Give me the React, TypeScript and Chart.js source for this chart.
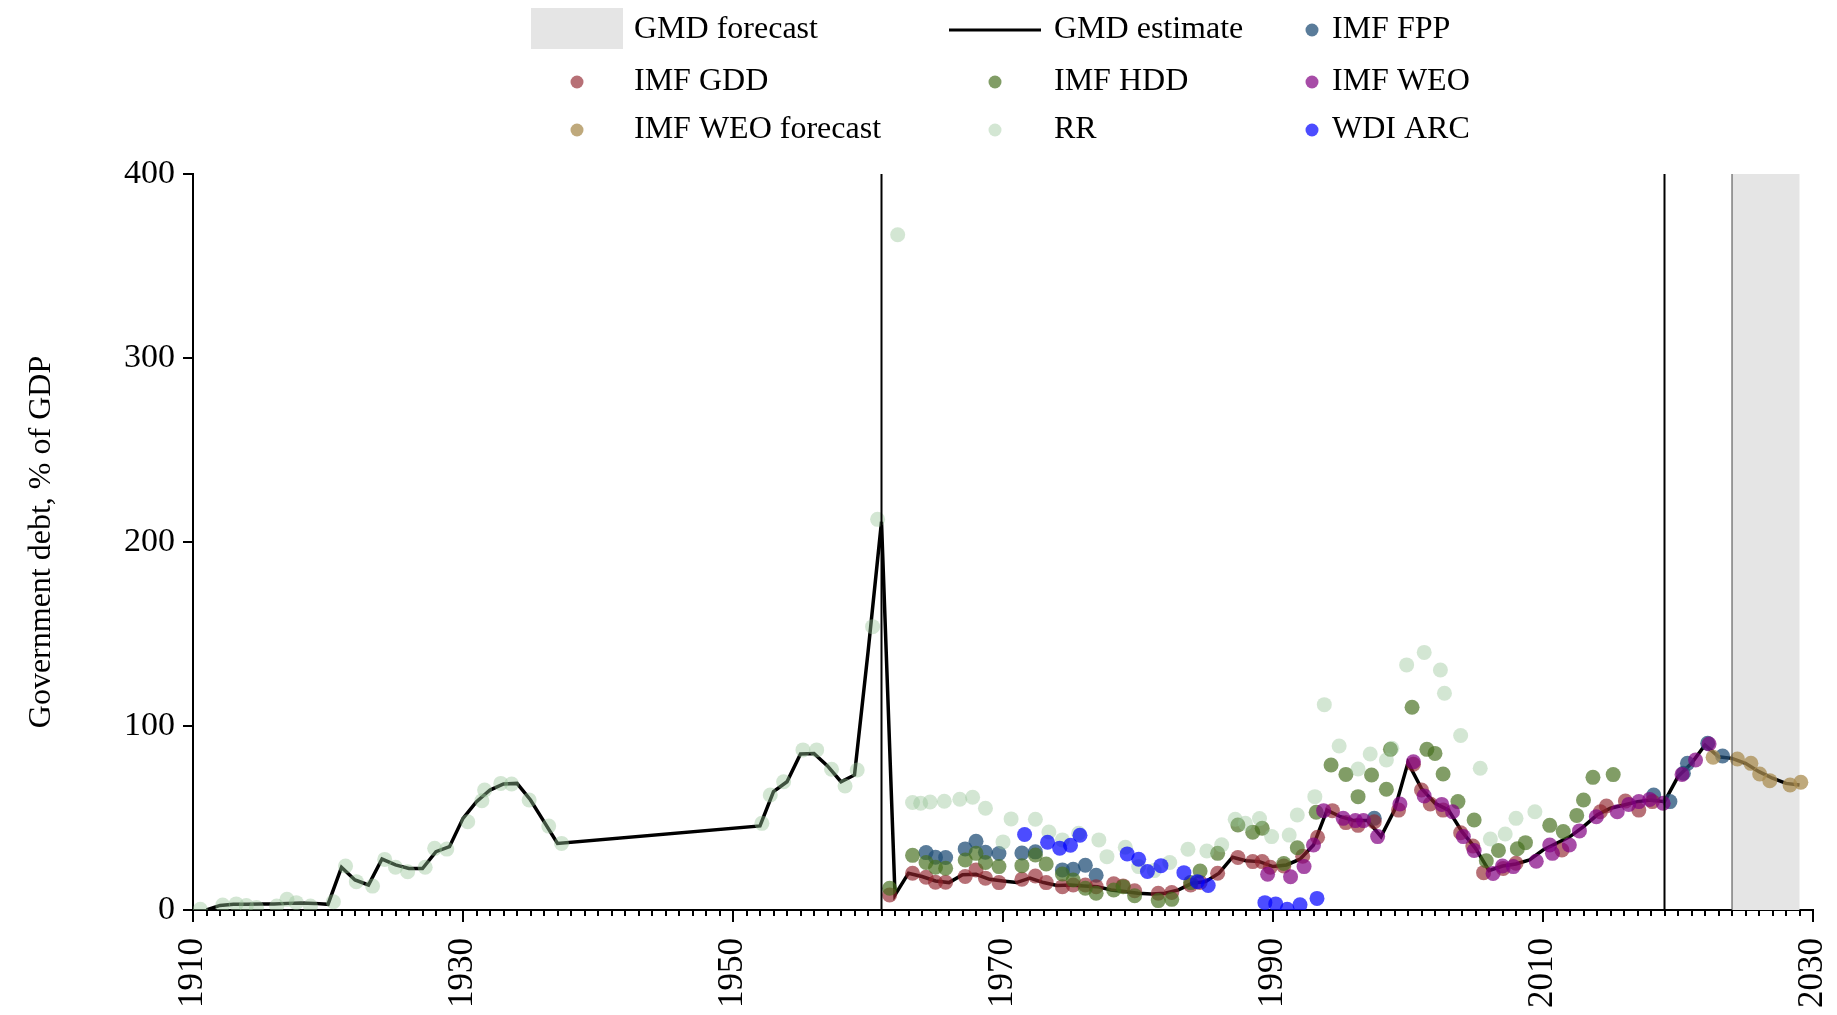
import React, { useEffect, useRef } from "react";
import { Chart, registerables } from "chart.js";

Chart.register(...registerables);

// ---------- data ----------
const xMin = 1910;
const xMax = 2030;
const xMajorTicks = [1910, 1930, 1950, 1970, 1990, 2010, 2030];
const xMinorTicks = Array.from({ length: xMax - xMin + 1 }, (_, i) => xMin + i);
const yTicks = [0, 100, 200, 300, 400];
const verticalLineYears = [1961, 2019];
const forecastStart = 2024;
const forecastEnd = 2029;

const gmdYears = [
  1911, 1912, 1913, 1914, 1915, 1916, 1917, 1918, 1919, 1920, 1921, 1922, 1923, 1924, 1925, 1926, 1927,
  1928, 1929, 1930, 1931, 1932, 1933, 1934, 1935, 1936, 1937,
  1952, 1953, 1954, 1955, 1956, 1957, 1958, 1959, 1960, 1961, 1962, 1963, 1964, 1965, 1966, 1967, 1968,
  1969, 1970, 1971, 1972, 1973, 1974, 1975, 1976, 1977, 1978, 1979, 1980, 1981, 1982, 1983, 1984, 1985,
  1986, 1987, 1988, 1989, 1990, 1991, 1992, 1993, 1994, 1995, 1996, 1997, 1998, 1999, 2000, 2001, 2002,
  2003, 2004, 2005, 2006, 2007, 2008, 2009, 2010, 2011, 2012, 2013, 2014, 2015, 2016, 2017, 2018, 2019,
  2020, 2021, 2022, 2023, 2024, 2025, 2026, 2027, 2028, 2029,
];
const gmdValues = [
  0, 2.5, 3.1, 3.1, 3.3, 3.3, 3.6, 3.8, 3.6, 3.1, 23.2, 16.3, 13.6, 27.7, 24.5, 22.6, 22.5,
  31.7, 34.4, 49.8, 58.9, 65.2, 68.5, 68.8, 59.8, 48, 36.2,
  45.7, 64.3, 69.7, 84.8, 85.1, 78.3, 69.7, 73.4, 140, 211, 8.2, 20, 18.2, 15.8, 14.9, 19.1, 19.4,
  16.7, 15.8, 14.9, 17.3, 14.9, 13.3, 13.6, 13.1, 12.7, 10.9, 10, 9.1, 8.7, 9.1, 10.9, 14.5, 15.4,
  20, 28.7, 26.8, 26.3, 23.6, 24.5, 27.6, 35.3, 54.3, 50.7, 48.6, 48.6, 39.9, 54.3, 80.1, 66, 58,
  54.3, 42.6, 33.5, 21.4, 23.9, 25, 27.2, 32.6, 36.2, 39.9, 45.3, 51.6, 55.3, 57.1, 58.9, 59.8, 58.9,
  72.5, 79.7, 89.7, 83.3, 82.4, 79.7, 75.2, 71.6, 68.8, 67.9,
];

const fppYears = [1964.3, 1965.0, 1965.75, 1967.2, 1968.0, 1968.7, 1969.7, 1971.4, 1972.4, 1974.4, 1975.2, 1976.1, 1976.9, 1997.5, 2018.2, 2019.4, 2020.4, 2020.7, 2022.2, 2023.3];
const fppValues = [31.2, 28.7, 28.5, 33.2, 37.4, 31.4, 30.7, 31.0, 31.6, 21.8, 22.1, 24.3, 18.9, 49.8, 62.5, 58.9, 74.3, 79.7, 90.6, 83.7];

const gddYears = [
  1961.6, 1963.3, 1964.3, 1965.0, 1965.75, 1967.2, 1968.0, 1968.7, 1969.7, 1971.4, 1972.4, 1973.2, 1974.4,
  1975.2, 1976.1, 1976.9, 1978.2, 1978.9, 1979.75, 1981.5, 1982.5, 1983.9, 1984.6, 1985.9, 1987.4, 1988.5,
  1989.2, 1989.8, 1990.8, 1992.2, 1993.3, 1994.4, 1995.4, 1996.3, 1997.5, 1999.3, 2000.4, 2001.0, 2001.65,
  2002.6, 2003.9, 2004.8, 2005.6, 2007.05, 2008.0, 2011.4, 2014.25, 2014.7, 2016.1, 2017.1, 2018.1,
];
const gddValues = [
  8.2, 20.0, 17.8, 15.1, 15.1, 18.2, 21.8, 17.3, 14.9, 16.7, 18.5, 14.9, 12.7,
  13.6, 13.6, 12.7, 14.2, 13.1, 10.5, 9.1, 9.5, 13.6, 15.0, 20.0, 28.5, 26.3,
  26.3, 23.2, 23.9, 29.2, 39.5, 54.0, 47.5, 46.0, 48.0, 54.3, 79.2, 65.2, 57.6,
  54.3, 42.0, 34.8, 20.3, 22.6, 25.4, 32.6, 53.4, 56.5, 59.2, 54.3, 58.9,
];

const hddYears = [
  1961.6, 1963.3, 1964.3, 1965.0, 1965.75, 1967.2, 1968.0, 1968.7, 1969.7, 1971.4, 1972.4, 1973.2, 1974.4,
  1975.2, 1976.1, 1976.9, 1978.2, 1978.9, 1979.75, 1981.5, 1982.5, 1983.9, 1984.6, 1985.9, 1987.4, 1988.5,
  1989.2, 1990.8, 1991.8, 1993.2, 1994.3, 1995.4, 1996.3, 1997.3, 1998.4, 1998.7, 2000.3, 2001.4, 2002.0,
  2002.6, 2003.7, 2004.9, 2005.8, 2006.7, 2008.1, 2008.7, 2010.5, 2011.5, 2012.5, 2013.0, 2013.7, 2015.2,
];
const hddValues = [
  11.8, 29.7, 25.8, 23.2, 22.7, 27.2, 30.8, 25.8, 23.6, 24.1, 29.9, 25.0, 19.6,
  16.3, 11.8, 9.1, 10.9, 12.7, 7.8, 5.1, 5.8, 14.9, 21.2, 30.8, 46.2, 42.3,
  44.4, 25.3, 33.8, 53.1, 78.8, 73.7, 61.6, 73.4, 65.6, 87.3, 110.2, 87.3, 85.1,
  73.9, 58.9, 48.9, 26.8, 32.4, 33.3, 36.6, 46.0, 42.6, 51.4, 59.8, 72.1, 73.6,
];

const weoYears = [
  1989.6, 1991.3, 1992.3, 1993.0, 1993.75, 1995.2, 1996.1, 1996.7, 1997.75, 1999.4, 2000.4, 2001.2, 2002.5,
  2003.3, 2004.1, 2004.9, 2006.3, 2007.0, 2007.8, 2009.5, 2010.5, 2010.7, 2011.95, 2012.7, 2013.95, 2015.5,
  2016.35, 2017.1, 2017.9, 2018.9, 2020.3, 2021.3, 2022.3,
];
const weoValues = [
  19.4, 18.1, 23.6, 35.3, 54.0, 49.8, 48.6, 48.6, 39.9, 57.6, 80.6, 62.0, 57.4,
  53.4, 39.9, 32.3, 19.9, 23.9, 23.6, 26.5, 35.3, 30.8, 35.3, 43.0, 50.7, 53.4,
  57.4, 58.9, 60.1, 58.0, 73.7, 81.5, 90.2,
];

const weoForecastYears = [2022.6, 2024.4, 2025.4, 2026.05, 2026.8, 2028.3, 2029.1];
const weoForecastValues = [83.0, 82.1, 79.7, 73.9, 70.3, 67.9, 69.4];

const rrYears = [
  1910.54, 1912.2, 1913.2, 1913.95, 1914.7, 1916.2, 1916.96, 1917.65, 1918.7, 1920.4, 1921.3, 1922.1, 1923.3,
  1924.2, 1925.0, 1925.9, 1927.2, 1927.9, 1928.8, 1930.35, 1931.4, 1931.6, 1932.8, 1933.6, 1934.9, 1936.35,
  1937.3, 1952.14, 1952.76, 1953.75, 1955.18, 1956.2, 1957.3, 1958.3, 1959.2, 1960.34, 1960.71, 1962.2,
  1963.3, 1963.9, 1964.6, 1965.65, 1966.8, 1967.75, 1968.7, 1970.0, 1970.6, 1972.4, 1973.4, 1974.4, 1975.6,
  1977.1, 1977.7, 1979.06, 1980.05, 1981.2, 1982.35, 1983.7, 1985.1, 1986.2, 1987.2, 1987.95, 1989.0, 1989.9,
  1991.2, 1991.8, 1993.1, 1993.8, 1994.9, 1996.3, 1997.2, 1998.4, 1998.8, 1999.9, 2001.2, 2002.4, 2002.7,
  2003.9, 2005.35, 2006.1, 2007.2, 2008.0, 2009.4,
];
const rrValues = [
  0.4, 2.7, 3.3, 2.4, 1.4, 2.2, 5.8, 4.0, 2.2, 4.5, 23.9, 15.4, 13.0,
  27.5, 23.2, 20.8, 23.2, 33.5, 33.1, 48.0, 59.4, 65.2, 68.8, 68.5, 59.8, 45.6,
  36.2, 47.1, 62.5, 69.7, 87.0, 87.0, 76.5, 67.4, 76.1, 154.0, 212.3, 367.0,
  58.4, 58.0, 58.7, 59.1, 60.2, 61.3, 55.3, 37.0, 49.5, 49.3, 42.4, 38.1, 41.7,
  38.1, 29.0, 34.1, 23.6, 21.4, 25.8, 33.0, 32.1, 35.4, 49.3, 47.1, 49.7, 39.9,
  40.7, 51.6, 61.6, 111.6, 89.1, 76.6, 84.8, 81.5, 87.9, 133.2, 140.0, 130.4, 117.8,
  94.8, 77.0, 38.6, 41.3, 49.8, 53.4,
];

const wdiYears = [1971.6, 1973.3, 1974.2, 1975.0, 1975.7, 1979.2, 1980.05, 1980.7, 1981.7, 1983.4, 1984.4, 1985.2, 1989.4, 1990.2, 1991.05, 1992.0, 1993.26];
const wdiValues = [41.0, 36.8, 33.6, 35.2, 40.6, 30.5, 27.6, 20.9, 24.1, 20.3, 15.4, 13.3, 4.0, 3.3, 0.4, 2.8, 6.3];

// ---------- style ----------
const FONT = "'Liberation Serif', 'Times New Roman', serif";
const SHADE = "#e5e5e5";
const COLORS = {
  fpp: "rgba(35,80,120,0.75)",
  gdd: "rgba(145,35,45,0.65)",
  hdd: "rgba(70,110,30,0.68)",
  weo: "rgba(130,0,130,0.7)",
  weof: "rgba(170,140,80,0.75)",
  rr: "rgba(150,195,150,0.42)",
  wdi: "rgba(0,0,255,0.7)",
};
const POINT_R = 7.5;

const pts = (xs: number[], ys: number[]) => xs.map((x, i) => ({ x, y: ys[i] }));

const scatterDs = (label: string, xs: number[], ys: number[], color: string, order: number) => ({
  label,
  data: pts(xs, ys),
  backgroundColor: color,
  borderColor: color,
  borderWidth: 0,
  pointRadius: POINT_R,
  pointHoverRadius: POINT_R,
  showLine: false,
  order,
});

const shadePlugin = {
  id: "forecastShade",
  beforeDatasetsDraw(chart: any) {
    const { ctx, chartArea, scales } = chart;
    const x0 = scales.x.getPixelForValue(forecastStart);
    const x1 = scales.x.getPixelForValue(forecastEnd);
    ctx.save();
    ctx.fillStyle = SHADE;
    ctx.fillRect(x0, chartArea.top, x1 - x0, chartArea.bottom - chartArea.top);
    ctx.restore();
  },
  afterDatasetsDraw(chart: any) {
    const { ctx, chartArea, scales } = chart;
    ctx.save();
    ctx.strokeStyle = "#000";
    ctx.lineWidth = 2;
    for (const yr of verticalLineYears) {
      const x = scales.x.getPixelForValue(yr);
      ctx.beginPath();
      ctx.moveTo(x, chartArea.top);
      ctx.lineTo(x, chartArea.bottom);
      ctx.stroke();
    }
    const xs = scales.x.getPixelForValue(forecastStart);
    ctx.strokeStyle = "#444";
    ctx.lineWidth = 1;
    ctx.beginPath();
    ctx.moveTo(xs, chartArea.top);
    ctx.lineTo(xs, chartArea.bottom);
    ctx.stroke();
    ctx.restore();
  },
};

// legend layout: [label, kind, col, row]
const legendLayout: [string, string, number, number][] = [
  ["GMD forecast", "box", 0, 0],
  ["GMD estimate", "line", 1, 0],
  ["IMF FPP", "dot", 2, 0],
  ["IMF GDD", "dot", 0, 1],
  ["IMF HDD", "dot", 1, 1],
  ["IMF WEO", "dot", 2, 1],
  ["IMF WEO forecast", "dot", 0, 2],
  ["RR", "dot", 1, 2],
  ["WDI ARC", "dot", 2, 2],
];
const legendColHandle = [577, 995, 1312];
const legendColText = [634, 1054, 1332];
const legendRowY = [30, 82, 130];

const legendPlugin = {
  id: "gridLegend",
  afterDraw(chart: any) {
    const { ctx } = chart;
    const dsByLabel: Record<string, any> = {};
    chart.data.datasets.forEach((d: any) => (dsByLabel[d.label] = d));
    ctx.save();
    ctx.font = `32px ${FONT}`;
    ctx.textBaseline = "middle";
    ctx.textAlign = "left";
    for (const [label, kind, col, row] of legendLayout) {
      const cx = legendColHandle[col];
      const cy = legendRowY[row];
      if (kind === "box") {
        ctx.fillStyle = SHADE;
        ctx.fillRect(cx - 46, cy - 22, 92, 41);
      } else if (kind === "line") {
        ctx.strokeStyle = "#000";
        ctx.lineWidth = 3;
        ctx.beginPath();
        ctx.moveTo(cx - 46, cy);
        ctx.lineTo(cx + 46, cy);
        ctx.stroke();
      } else {
        const ds = dsByLabel[label];
        ctx.fillStyle = ds ? ds.backgroundColor : "#000";
        ctx.beginPath();
        ctx.arc(cx, cy, 6.5, 0, Math.PI * 2);
        ctx.fill();
      }
      ctx.fillStyle = "#000";
      ctx.fillText(label, legendColText[col], cy);
    }
    ctx.restore();
  },
};

export default function App() {
  const ref = useRef<HTMLCanvasElement | null>(null);

  useEffect(() => {
    document.body.style.margin = "0";
    const canvas = ref.current;
    if (!canvas) return;
    Chart.defaults.font.family = FONT;
    Chart.defaults.color = "#000";

    const chart = new Chart(canvas, {
      type: "scatter",
      data: {
        datasets: [
          {
            label: "GMD estimate",
            data: pts(gmdYears, gmdValues),
            showLine: true,
            borderColor: "#000",
            backgroundColor: "#000",
            borderWidth: 3.5,
            pointRadius: 0,
            pointHoverRadius: 0,
            tension: 0,
            order: 100,
          } as any,
          scatterDs("IMF FPP", fppYears, fppValues, COLORS.fpp, 7),
          scatterDs("IMF GDD", gddYears, gddValues, COLORS.gdd, 6),
          scatterDs("IMF HDD", hddYears, hddValues, COLORS.hdd, 5),
          scatterDs("IMF WEO", weoYears, weoValues, COLORS.weo, 4),
          scatterDs("IMF WEO forecast", weoForecastYears, weoForecastValues, COLORS.weof, 3),
          scatterDs("RR", rrYears, rrValues, COLORS.rr, 2),
          scatterDs("WDI ARC", wdiYears, wdiValues, COLORS.wdi, 1),
        ],
      },
      options: {
        responsive: false,
        animation: false,
        events: [],
        layout: { padding: { left: 0, top: 174, right: 24, bottom: 0 } },
        plugins: {
          legend: { display: false },
          tooltip: { enabled: false },
          title: { display: false },
        },
        scales: {
          x: {
            type: "linear",
            position: "bottom",
            min: xMin,
            max: xMax,
            afterBuildTicks: (s: any) => {
              s.ticks = xMajorTicks.map((v) => ({ value: v }));
            },
            afterFit: (s: any) => {
              s.height = 105;
              s.paddingLeft = 0;
              s.paddingRight = 0;
            },
            ticks: {
              autoSkip: false,
              minRotation: 90,
              maxRotation: 90,
              padding: 16,
              font: { size: 35, family: FONT },
              color: "#000",
              callback: (v: any) => String(v),
            },
            grid: { drawOnChartArea: false, drawTicks: true, tickLength: 12, color: "#000", lineWidth: 2 },
            border: { display: true, color: "#000", width: 2 },
          },
          xMinor: {
            type: "linear",
            axis: "x",
            position: { y: 0 } as any,
            min: xMin,
            max: xMax,
            afterBuildTicks: (s: any) => {
              s.ticks = xMinorTicks.map((v) => ({ value: v }));
            },
            afterFit: (s: any) => {
              s.paddingLeft = 0;
              s.paddingRight = 0;
            },
            ticks: { display: false },
            grid: { drawOnChartArea: false, drawTicks: true, tickLength: 6, color: "#000", lineWidth: 2 },
            border: { display: false },
          },
          y: {
            type: "linear",
            position: "left",
            min: 0,
            max: 400,
            afterBuildTicks: (s: any) => {
              s.ticks = yTicks.map((v) => ({ value: v }));
            },
            afterFit: (s: any) => {
              s.width = 193;
            },
            ticks: {
              padding: 8,
              font: { size: 34, family: FONT },
              color: "#000",
              callback: (v: any) => String(v),
            },
            grid: { drawOnChartArea: false, drawTicks: true, tickLength: 10, color: "#000", lineWidth: 2 },
            border: { display: true, color: "#000", width: 2 },
            title: {
              display: true,
              text: "Government debt, % of GDP",
              font: { size: 32, family: FONT },
              color: "#000",
              padding: { top: 22, bottom: 0 },
            },
          },
        },
      } as any,
      plugins: [shadePlugin, legendPlugin],
    });
    return () => chart.destroy();
  }, []);

  return (
    <div style={{ width: 1837, height: 1015, overflow: "hidden" }}>
      <canvas ref={ref} width={1837} height={1015} style={{ display: "block" }} />
    </div>
  );
}
